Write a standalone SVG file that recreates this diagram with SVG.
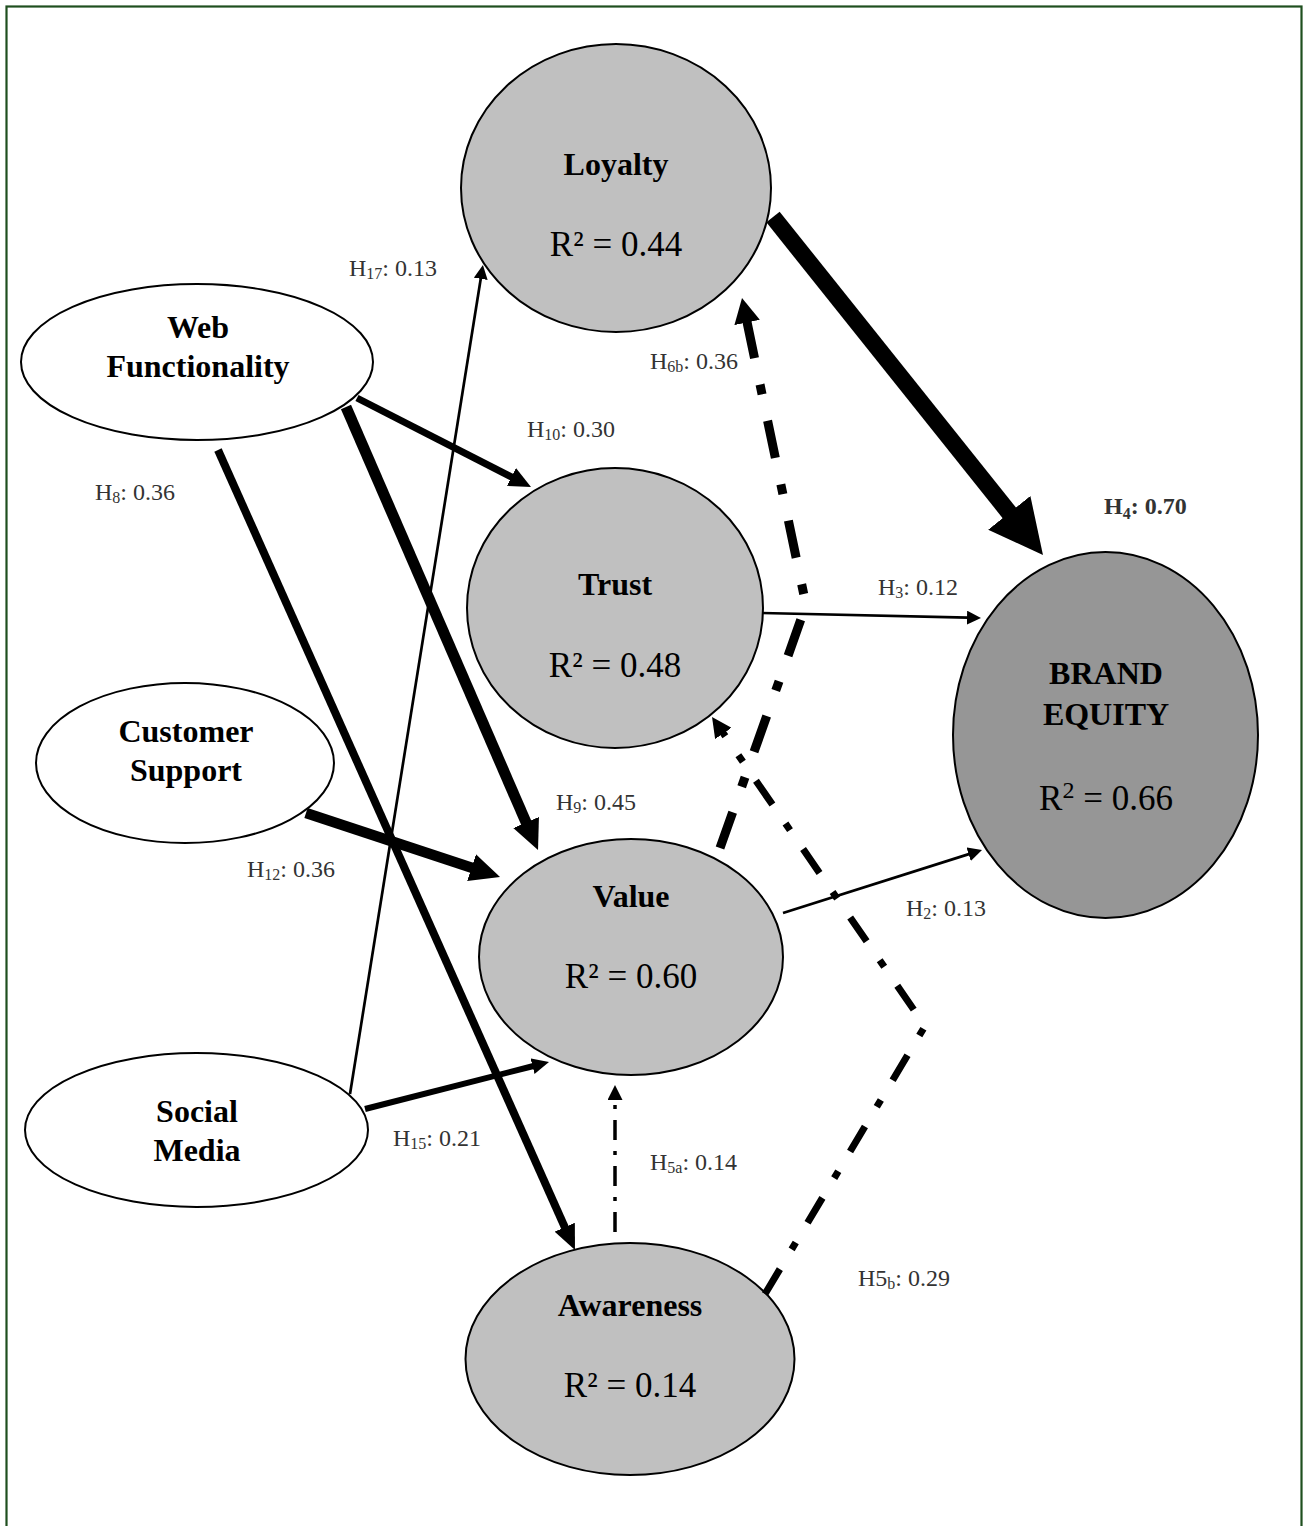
<svg xmlns="http://www.w3.org/2000/svg" width="1303" height="1526" viewBox="0 0 1303 1526">
  <style>
    .node { stroke: #000; stroke-width: 2; }
    .outer { fill: #fff; }
    .latent { fill: #c0c0c0; }
    .brand { fill: #969696; }
    .lbl { font-family: "Liberation Serif", "Times New Roman", serif; font-weight: bold; font-size: 32px; fill: #000; text-anchor: middle; }
    .r2 { font-family: "Liberation Serif", "Times New Roman", serif; font-size: 35px; fill: #000; text-anchor: middle; }
    .coef { font-family: "Liberation Serif", "Times New Roman", serif; font-size: 24px; fill: #333; }
    .sub { font-size: 16px; }
    .edge { fill: none; stroke: #000; stroke-linecap: butt; stroke-linejoin: miter; }
    .head { fill: #000; stroke: none; }
  </style>
  <defs>
    <marker id="a-thin" markerUnits="userSpaceOnUse" markerWidth="14" markerHeight="14" refX="1" refY="7" orient="auto"><path class="head" d="M0,0 L14,7 L0,14 z"/></marker>
    <marker id="a-h10" markerUnits="userSpaceOnUse" markerWidth="22" markerHeight="20" refX="1" refY="10" orient="auto"><path class="head" d="M0,0 L22,10 L0,20 z"/></marker>
    <marker id="a-h15" markerUnits="userSpaceOnUse" markerWidth="17" markerHeight="16" refX="1" refY="8" orient="auto"><path class="head" d="M0,0 L17,8 L0,16 z"/></marker>
    <marker id="a-big" markerUnits="userSpaceOnUse" markerWidth="30" markerHeight="28" refX="1" refY="14" orient="auto"><path class="head" d="M0,0 L30,14 L0,28 z"/></marker>
    <marker id="a-h8" markerUnits="userSpaceOnUse" markerWidth="25" markerHeight="22" refX="1" refY="11" orient="auto"><path class="head" d="M0,0 L25,11 L0,22 z"/></marker>
    <marker id="a-h6b" markerUnits="userSpaceOnUse" markerWidth="25" markerHeight="26" refX="1" refY="13" orient="auto"><path class="head" d="M0,0 L25,13 L0,26 z"/></marker>
    <marker id="a-h5b" markerUnits="userSpaceOnUse" markerWidth="20" markerHeight="20" refX="1" refY="10" orient="auto"><path class="head" d="M0,0 L20,10 L0,20 z"/></marker>
    <marker id="a-h5a" markerUnits="userSpaceOnUse" markerWidth="15" markerHeight="15" refX="1" refY="7.5" orient="auto"><path class="head" d="M0,0 L15,7.5 L0,15 z"/></marker>
    <marker id="a-h4" markerUnits="userSpaceOnUse" markerWidth="54" markerHeight="54" refX="1" refY="27" orient="auto"><path class="head" d="M0,0 L54,27 L0,54 z"/></marker>
  </defs>

  <rect width="1303" height="1526" fill="#fff"/>
  <!-- page frame -->
  <rect x="6.5" y="6.5" width="1295" height="1540" fill="none" stroke="#1f4f1f" stroke-width="2.2"/>

  <!-- constructs -->
  <g id="loyalty">
    <ellipse class="node latent" cx="616" cy="188" rx="155" ry="144"/>
    <text class="lbl" x="616" y="175" font-size="33">Loyalty</text>
    <text class="r2" x="616" y="256">R² = 0.44</text>
  </g>
  <g id="trust">
    <ellipse class="node latent" cx="615" cy="608" rx="148" ry="140"/>
    <text class="lbl" x="615" y="595" font-size="33">Trust</text>
    <text class="r2" x="615" y="677">R² = 0.48</text>
  </g>
  <g id="value">
    <ellipse class="node latent" cx="631" cy="957" rx="152" ry="118"/>
    <text class="lbl" x="631" y="907" font-size="33">Value</text>
    <text class="r2" x="631" y="988">R² = 0.60</text>
  </g>
  <g id="awareness">
    <ellipse class="node latent" cx="630" cy="1359" rx="164.5" ry="116"/>
    <text class="lbl" x="630" y="1316" font-size="33">Awareness</text>
    <text class="r2" x="630" y="1397">R² = 0.14</text>
  </g>
  <g id="brand-equity">
    <ellipse class="node brand" cx="1105.5" cy="735" rx="152.5" ry="183"/>
    <text class="lbl" x="1106" y="684" font-size="36">BRAND</text>
    <text class="lbl" x="1106" y="725" font-size="36">EQUITY</text>
    <text class="r2" x="1106" y="810">R<tspan font-size="24" dy="-12">2</tspan><tspan dy="12"> = 0.66</tspan></text>
  </g>
  <g id="web-functionality">
    <ellipse class="node outer" cx="197" cy="362" rx="176" ry="78"/>
    <text class="lbl" x="198" y="338">Web</text>
    <text class="lbl" x="198" y="377">Functionality</text>
  </g>
  <g id="customer-support">
    <ellipse class="node outer" cx="185" cy="763" rx="149" ry="80"/>
    <text class="lbl" x="186" y="742">Customer</text>
    <text class="lbl" x="186" y="781">Support</text>
  </g>
  <g id="social-media">
    <ellipse class="node outer" cx="196.5" cy="1130" rx="171.5" ry="77"/>
    <text class="lbl" x="197" y="1122">Social</text>
    <text class="lbl" x="197" y="1161">Media</text>
  </g>

  <!-- paths -->
  <g id="connectors">
    <path class="edge" d="M350,1094 L480.9,277.8" stroke-width="2.7" marker-end="url(#a-thin)"/>
    <path class="edge" d="M357,398 L512.3,477.4" stroke-width="7" marker-end="url(#a-h10)"/>
    <path class="edge" d="M346,407 L526.5,823.4" stroke-width="11" marker-end="url(#a-big)"/>
    <path class="edge" d="M218,450 L565.2,1228.1" stroke-width="8" marker-end="url(#a-h8)"/>
    <path class="edge" d="M306,813 L472.5,867.9" stroke-width="10.5" marker-end="url(#a-big)"/>
    <path class="edge" d="M365,1109 L533.5,1066" stroke-width="6" marker-end="url(#a-h15)"/>
    <path class="edge" d="M615,1232 L615,1099" stroke-width="3.5" stroke-dasharray="20 11 4 11" marker-end="url(#a-h5a)"/>
    <path class="edge" d="M720,848 L806,605 L746.9,321.5" stroke-width="9" stroke-dasharray="38 27 10 27" marker-end="url(#a-h6b)"/>
    <path class="edge" d="M765,1294 L925,1026 L722.8,732.6" stroke-width="7" stroke-dasharray="29 23 8 23" marker-end="url(#a-h5b)"/>
    <path class="edge" d="M762,613 L968,617.7" stroke-width="2.7" marker-end="url(#a-thin)"/>
    <path class="edge" d="M783,913 L969.6,853.9" stroke-width="2.7" marker-end="url(#a-thin)"/>
    <path class="edge" d="M773,217 L1009.9,513.6" stroke-width="17" marker-end="url(#a-h4)"/>
  </g>

  <!-- path coefficients -->
  <g id="coefficients">
    <text class="coef" x="349" y="276">H<tspan class="sub" dy="3">17</tspan><tspan dy="-3">: 0.13</tspan></text>
    <text class="coef" x="527" y="437">H<tspan class="sub" dy="3">10</tspan><tspan dy="-3">: 0.30</tspan></text>
    <text class="coef" x="650" y="369">H<tspan class="sub" dy="3">6b</tspan><tspan dy="-3">: 0.36</tspan></text>
    <text class="coef" x="878" y="595">H<tspan class="sub" dy="3">3</tspan><tspan dy="-3">: 0.12</tspan></text>
    <text class="coef" x="556" y="810">H<tspan class="sub" dy="3">9</tspan><tspan dy="-3">: 0.45</tspan></text>
    <text class="coef" x="247" y="877">H<tspan class="sub" dy="3">12</tspan><tspan dy="-3">: 0.36</tspan></text>
    <text class="coef" x="906" y="916">H<tspan class="sub" dy="3">2</tspan><tspan dy="-3">: 0.13</tspan></text>
    <text class="coef" x="95" y="500">H<tspan class="sub" dy="3">8</tspan><tspan dy="-3">: 0.36</tspan></text>
    <text class="coef" x="393" y="1146">H<tspan class="sub" dy="3">15</tspan><tspan dy="-3">: 0.21</tspan></text>
    <text class="coef" x="650" y="1170">H<tspan class="sub" dy="3">5a</tspan><tspan dy="-3">: 0.14</tspan></text>
    <text class="coef" x="858" y="1286">H5<tspan class="sub" dy="3">b</tspan><tspan dy="-3">: 0.29</tspan></text>
    <text class="coef" x="1104" y="514" font-weight="bold" fill="#000" font-size="24">H<tspan class="sub" dy="5">4</tspan><tspan dy="-5">: 0.70</tspan></text>
  </g>
</svg>
